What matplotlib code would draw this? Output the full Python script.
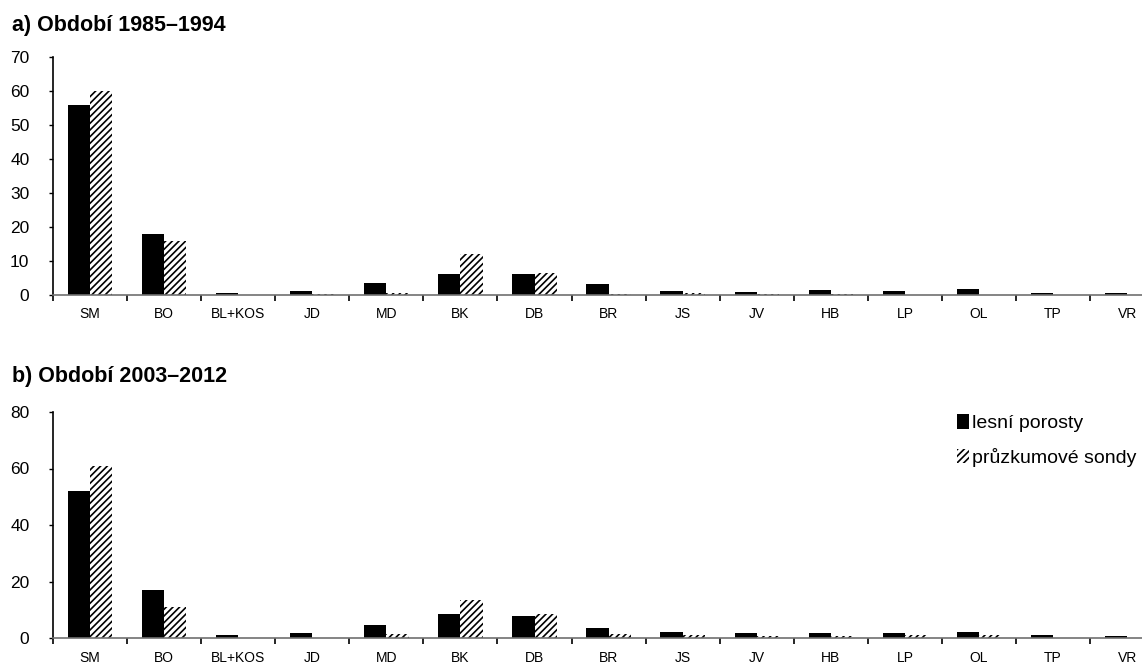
import matplotlib
matplotlib.use("Agg")
import matplotlib.pyplot as plt
import numpy as np

plt.rcParams['font.family'] = ['Liberation Sans', 'DejaVu Sans']
plt.rcParams['hatch.linewidth'] = 1.2

categories = ["SM", "BO", "BL+KOS", "JD", "MD", "BK", "DB", "BR", "JS", "JV",
              "HB", "LP", "OL", "TP", "VR"]

# a) 1985–1994
a_porosty = [56, 18, 0.7, 1.3, 3.4, 6.1, 6.1, 3.1, 1.2, 0.8, 1.5, 1.2, 1.7, 0.5, 0.5]
a_sondy = [60, 16, 0, 0.3, 0.7, 12.0, 6.5, 0.3, 0.5, 0.3, 0.3, 0, 0, 0, 0]

# b) 2003–2012
b_porosty = [52, 17, 1.0, 1.9, 4.6, 8.5, 7.8, 3.4, 2.2, 1.9, 1.9, 1.9, 2.2, 1.0, 0.7]
b_sondy = [61, 11, 0, 0, 1.4, 13.4, 8.5, 1.4, 1.0, 0.6, 0.6, 1.0, 1.0, 0, 0]

titles = ["a) Období 1985–1994", "b) Období 2003–2012"]
legend_labels = ["lesní porosty", "průzkumové sondy"]

W, H = 1142, 664
fig = plt.figure(figsize=(W / 100, H / 100), dpi=100)

def px_axes(left, top, right, bottom):
    return fig.add_axes([left / W, 1 - bottom / H, (right - left) / W, (bottom - top) / H])

ax1 = px_axes(53, 57, 1142, 295)
ax2 = px_axes(53, 412, 1142, 638)

x = np.arange(len(categories))
bw = 0.3

def draw(ax, solid, hatched, ymax, ystep):
    b1 = ax.bar(x - bw / 2, solid, bw, color="black", linewidth=0)
    b2 = ax.bar(x + bw / 2, hatched, bw, color="white", edgecolor="black",
                hatch="/////", linewidth=0)
    ax.set_yticks(np.arange(0, ymax + 1, ystep))
    ax.set_xticks(x)
    ax.set_xticklabels(categories, fontsize=10)
    ax.set_xticks(np.arange(-0.5, 15, 1), minor=True)
    ax.set_xlim(-0.5, 14.2)
    ax.set_ylim(0, ymax)
    ax.tick_params(axis="x", which="major", length=0, pad=9)
    ax.tick_params(axis="x", which="minor", length=4, width=1.2, direction="out", color="black")
    ax.tick_params(axis="y", length=3, width=1, pad=14, labelsize=12.5)
    for s in ["top", "right"]:
        ax.spines[s].set_visible(False)
    ax.spines["left"].set_color("black")
    ax.spines["left"].set_linewidth(1.2)
    ax.spines["bottom"].set_color("#707070")
    ax.spines["bottom"].set_linewidth(1.2)
    return b1, b2

draw(ax1, a_porosty, a_sondy, 70, 10)
b1, b2 = draw(ax2, b_porosty, b_sondy, 80, 20)

fig.text(12 / W, 1 - 25 / H, titles[0], fontsize=15.5, fontweight="bold", va="center", ha="left")
fig.text(12 / W, 1 - 377 / H, titles[1], fontsize=15.5, fontweight="bold", va="center", ha="left")

fig.legend([b1, b2], legend_labels, loc="upper left",
           bbox_to_anchor=(957 / W, 1 - 414 / H), frameon=False,
           fontsize=14, handlelength=0.6, handleheight=0.8, handletextpad=0.15,
           labelspacing=0.8, borderpad=0, borderaxespad=0)

fig.savefig("out.png", dpi=100)
